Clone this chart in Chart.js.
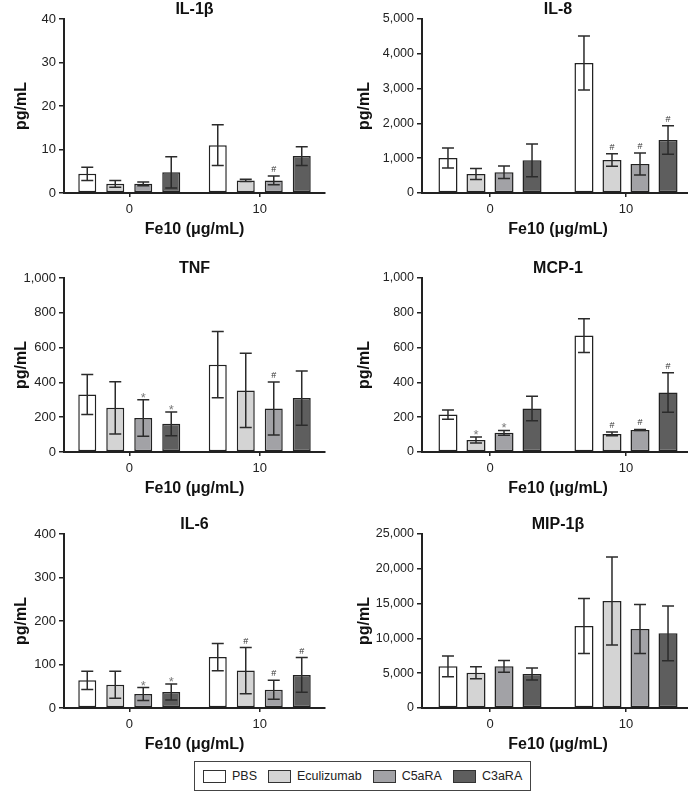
<!DOCTYPE html>
<html><head><meta charset="utf-8">
<script src="https://cdn.jsdelivr.net/npm/chart.js@4.4.1/dist/chart.umd.min.js"></script>
<style>
html,body{margin:0;padding:0;background:#fff;width:688px;height:792px;overflow:hidden;position:relative;font-family:"Liberation Sans",Arial,sans-serif;}
.panel{position:absolute;}
#legend{position:absolute;left:194px;top:761px;height:30px;border:1px solid #444;display:flex;align-items:center;padding:0 8px;font-size:12.5px;color:#222;box-sizing:border-box;background:#fff}
.item{display:flex;align-items:center;margin-right:11px}
.item:last-child{margin-right:0}
.sw{width:21px;height:11px;border:1px solid #333;margin-right:6px}
</style></head><body>
<div id="legend"></div>
<script>
// ---------- data ----------
const categories = ['0', '10'];
const seriesNames = ['PBS', 'Eculizumab', 'C5aRA', 'C3aRA'];
const seriesColors = ['#ffffff', '#d4d4d4', '#a2a2a6', '#5e5e5e'];

const panelTitles = ['IL-1β', 'IL-8', 'TNF', 'MCP-1', 'IL-6', 'MIP-1β'];
const panelMax = [40, 5000, 1000, 1000, 400, 25000];
const panelStep = [10, 1000, 200, 200, 100, 5000];

// means per series: [Fe10 = 0, Fe10 = 10]
const il1bMeans = [[4.4, 11.0], [2.1, 2.9], [2.1, 2.9], [4.75, 8.5]];
const il1bErrors = [[1.5, 4.7], [0.75, 0.25], [0.45, 1.0], [3.6, 2.15]];
const il1bMarks = [['', ''], ['', ''], ['', '#'], ['', '']];

const il8Means = [[1006, 3736], [546, 948], [594, 833], [939, 1523]];
const il8Errors = [[290, 775], [160, 180], [180, 316], [470, 410]];
const il8Marks = [['', ''], ['', '#'], ['', '#'], ['', '#']];

const tnfMeans = [[331, 502], [254, 354], [196, 250], [162, 310]];
const tnfErrors = [[115, 190], [150, 213], [105, 152], [68, 156]];
const tnfMarks = [['', ''], ['', ''], ['*', '#'], ['*', '']];

const mcp1Means = [[215, 669], [69, 104], [110, 127], [250, 342]];
const mcp1Errors = [[27, 97], [17, 11], [14, 3], [71, 114]];
const mcp1Marks = [['', ''], ['*', '#'], ['*', '#'], ['', '#']];

const il6Means = [[63.6, 117], [53.6, 86], [32, 42], [36.8, 76]];
const il6Errors = [[21, 31.5], [31, 53], [15, 22], [18.5, 40]];
const il6Marks = [['', ''], ['', '#'], ['*', '#'], ['*', '#']];

const mip1bMeans = [[5987, 11782], [5077, 15374], [5987, 11351], [4885, 10728]];
const mip1bErrors = [[1485, 3950], [860, 6320], [840, 3520], [860, 3930]];
const mip1bMarks = [['', ''], ['', ''], ['', ''], ['', '']];

const panelMeans = [il1bMeans, il8Means, tnfMeans, mcp1Means, il6Means, mip1bMeans];
const panelErrors = [il1bErrors, il8Errors, tnfErrors, mcp1Errors, il6Errors, mip1bErrors];
const panelMarks = [il1bMarks, il8Marks, tnfMarks, mcp1Marks, il6Marks, mip1bMarks];

// ---------- layout ----------
const FONT = '"Liberation Sans", Arial, Helvetica, sans-serif';
const rowTops = [0, 259, 515];
const CANVAS_H = 240;
const PLOT_TOP = 19;
const XAXIS_H = 47;

// ---------- plugins ----------
const errorBarPlugin = {
  id: 'errbars',
  afterDatasetsDraw(chart) {
    const p = chart.options.plugins.errbars;
    const {ctx} = chart;
    const y = chart.scales.y;
    chart.data.datasets.forEach((ds, di) => {
      const meta = chart.getDatasetMeta(di);
      meta.data.forEach((bar, i) => {
        const m = ds.data[i], e = p.errors[di][i];
        const yt = y.getPixelForValue(m + e);
        const yb = y.getPixelForValue(Math.max(0, m - e));
        ctx.save();
        ctx.strokeStyle = '#2b2b2b';
        ctx.lineWidth = 1.5;
        ctx.beginPath();
        ctx.moveTo(bar.x, yt); ctx.lineTo(bar.x, yb);
        ctx.moveTo(bar.x - 6, yt); ctx.lineTo(bar.x + 6, yt);
        ctx.moveTo(bar.x - 6, yb); ctx.lineTo(bar.x + 6, yb);
        ctx.stroke();
        const mk = p.marks[di][i];
        if (mk) {
          ctx.textAlign = 'center';
          ctx.textBaseline = 'alphabetic';
          if (mk === '*') {
            ctx.fillStyle = '#7a7a7a';
            ctx.font = '13px ' + FONT;
            ctx.fillText(mk, bar.x, yt + 2);
          } else {
            ctx.fillStyle = '#333';
            ctx.font = '9px ' + FONT;
            ctx.fillText(mk, bar.x, yt - 4);
          }
        }
        ctx.restore();
      });
    });
  },
  afterDraw(chart) {
    const p = chart.options.plugins.errbars;
    const {ctx, chartArea} = chart;
    ctx.save();
    ctx.fillStyle = '#111';
    ctx.font = 'bold 16px ' + FONT;
    ctx.textAlign = 'center';
    ctx.textBaseline = 'middle';
    ctx.fillText(p.title, (chartArea.left + chartArea.right) / 2, chartArea.top - 9.5);
    ctx.restore();
  }
};

function fmt(v) { return Number(v).toLocaleString('en-US'); }

for (let k = 0; k < 6; k++) {
  const row = Math.floor(k / 2), col = k % 2;
  const left = col === 0 ? 0 : 344;
  const width = col === 0 ? 344 : 350;
  const yAxisW = col === 0 ? 64 : 78;
  const rightPad = col === 0 ? 19 : 0;
  const catPct = col === 0 ? 0.858 : 0.824;
  const barPct = col === 0 ? 0.643 : 0.68;

  const div = document.createElement('div');
  div.className = 'panel';
  div.style.left = left + 'px';
  div.style.top = rowTops[row] + 'px';
  div.style.width = width + 'px';
  div.style.height = CANVAS_H + 'px';
  const cv = document.createElement('canvas');
  cv.width = width; cv.height = CANVAS_H;
  cv.style.width = width + 'px'; cv.style.height = CANVAS_H + 'px';
  div.appendChild(cv);
  document.body.appendChild(div);

  const datasets = seriesNames.map((name, s) => ({
    label: name,
    data: panelMeans[k][s],
    backgroundColor: seriesColors[s],
    borderColor: '#222',
    borderWidth: 1.5,
    borderSkipped: false,
    categoryPercentage: catPct,
    barPercentage: barPct
  }));

  new Chart(cv, {
    type: 'bar',
    data: { labels: categories, datasets },
    options: {
      responsive: false,
      animation: false,
      devicePixelRatio: 1,
      layout: { padding: { top: PLOT_TOP, right: rightPad, bottom: 0, left: 0 } },
      plugins: {
        legend: { display: false },
        title: { display: false },
        tooltip: { enabled: false },
        errbars: { errors: panelErrors[k], marks: panelMarks[k], title: panelTitles[k] }
      },
      scales: {
        x: {
          type: 'category',
          offset: true,
          afterFit: (s) => { s.height = XAXIS_H; },
          grid: { offset: false, drawOnChartArea: false, drawTicks: true, tickLength: 4, color: '#222', lineWidth: 1.5 },
          border: { display: true, color: '#222', width: 2 },
          ticks: { color: '#222', font: { family: FONT, size: 13 }, padding: 5, maxRotation: 0 },
          title: { display: true, text: 'Fe10 (μg/mL)', color: '#111', font: { family: FONT, size: 16, weight: 'bold' }, padding: { top: 0, bottom: 0.5 } }
        },
        y: {
          min: 0,
          max: panelMax[k],
          afterFit: (s) => { s.width = yAxisW; },
          grid: { drawOnChartArea: false, drawTicks: true, tickLength: 5, color: '#222', lineWidth: 1.5 },
          border: { display: true, color: '#222', width: 2 },
          ticks: { stepSize: panelStep[k], color: '#222', font: { family: FONT, size: col === 0 ? 13 : 12.5 }, padding: 3, callback: (v) => fmt(v) },
          title: { display: true, text: 'pg/mL', color: '#111', font: { family: FONT, size: 16, weight: 'bold' }, padding: { top: col === 0 ? 11.5 : 10.5, bottom: 0 } }
        }
      }
    },
    plugins: [errorBarPlugin]
  });
}

// ---------- legend ----------
const lg = document.getElementById('legend');
seriesNames.forEach((name, s) => {
  const it = document.createElement('div');
  it.className = 'item';
  const sw = document.createElement('div');
  sw.className = 'sw';
  sw.style.background = seriesColors[s];
  const tx = document.createElement('span');
  tx.textContent = name;
  it.appendChild(sw); it.appendChild(tx);
  lg.appendChild(it);
});
</script></body></html>
